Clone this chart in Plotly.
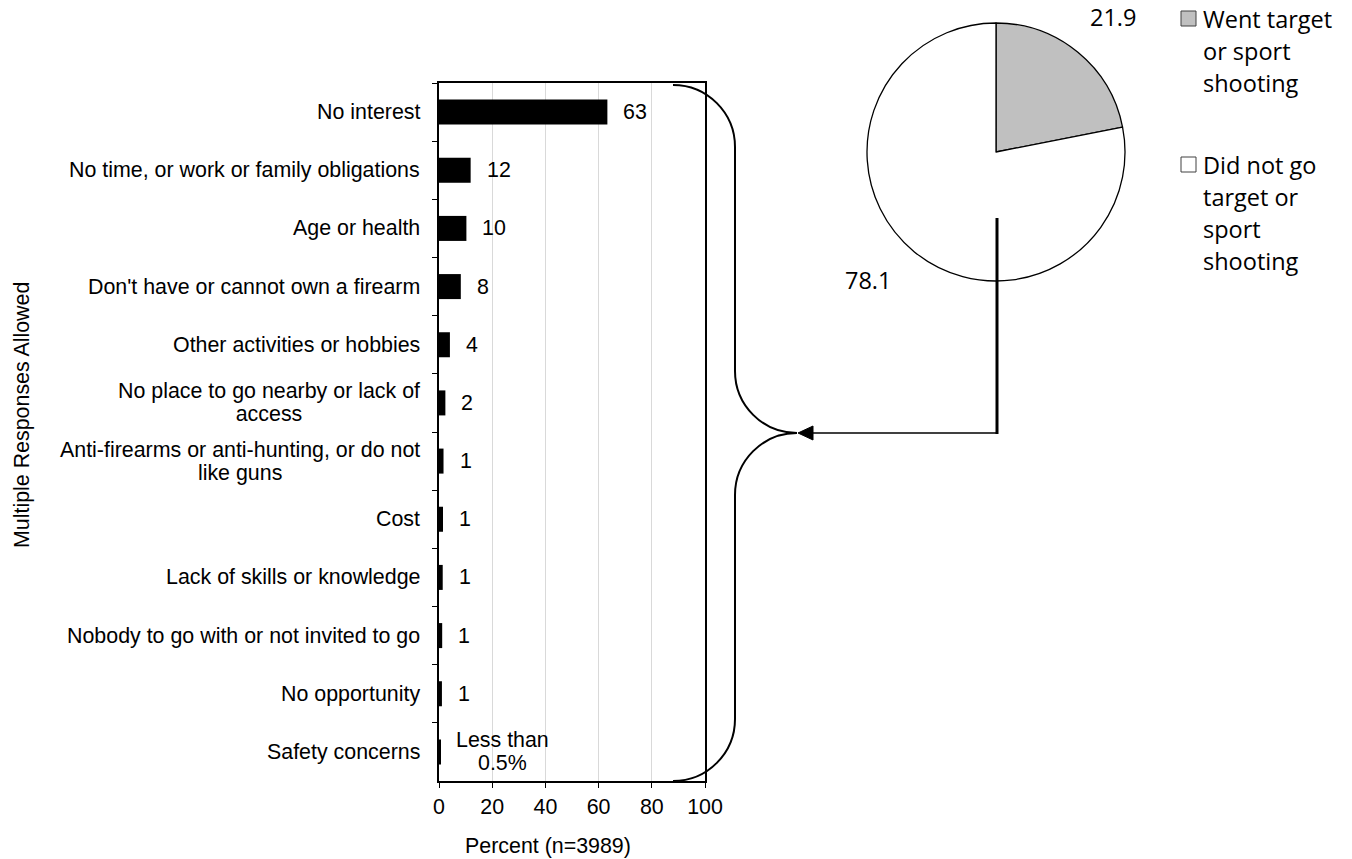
import plotly.graph_objects as go

# ---------------- data ----------------
categories = [
    "No interest",
    "No time, or work or family obligations",
    "Age or health",
    "Don't have or cannot own a firearm",
    "Other activities or hobbies",
    "No place to go nearby or lack of<br>access",
    "Anti-firearms or anti-hunting, or do not<br>like guns",
    "Cost",
    "Lack of skills or knowledge",
    "Nobody to go with or not invited to go",
    "No opportunity",
    "Safety concerns",
]
percents = [63.3, 11.9, 10.3, 8.2, 4.1, 2.4, 1.7, 1.5, 1.4, 1.2, 1.1, 0.4]
bar_labels = ["63", "12", "10", "8", "4", "2", "1", "1", "1", "1", "1", "Less than<br>0.5%"]
x_ticks = [0, 20, 40, 60, 80, 100]

pie_labels = ["Went target<br>or sport<br>shooting", "Did not go<br>target or<br>sport<br>shooting"]
pie_values = [21.9, 78.1]
pie_colors = ["#C0C0C0", "#FFFFFF"]

# ---------------- layout geometry ----------------
O = 0  # page body margin is removed by the post script
W, H = 1352 - 2 * O, 859 - 2 * O
ML, MR, MT, MB = 439 - O, 10, 2, 859 - 781 - O
PW = W - ML - MR
PH = H - MT - MB


def px(x):  # reference page pixel -> paper x
    return (x - O - ML) / PW


def py(y):  # reference page pixel -> paper y
    return (H - MB - (y - O)) / PH


ARIAL = "Liberation Sans, Arial, sans-serif"
CAL = "Open Sans, Calibri, sans-serif"
FS = 21.4
LS = 23  # line spacing of two-line labels (px)
CFS = 23.5


def multiline(text, size):
    """Lines rendered at `size`, spaced LS px apart."""
    return "<br>".join(f'<span style="font-size:{size}px">{ln}</span>' for ln in text.split("<br>"))


fig = go.Figure()

fig.add_trace(go.Bar(
    x=percents, y=categories, orientation="h",
    marker=dict(color="black", line=dict(width=0)),
    showlegend=False, hoverinfo="x+y",
))

pie_cx, pie_cy, pie_r = 996, 152, 129
fig.add_trace(go.Pie(
    labels=pie_labels, values=pie_values,
    marker=dict(colors=pie_colors, line=dict(color="black", width=1.3)),
    sort=False, direction="clockwise", rotation=0,
    textinfo="none", showlegend=False,
    domain=dict(x=[px(pie_cx - pie_r), px(pie_cx + pie_r)],
                y=[py(pie_cy + pie_r), py(pie_cy - pie_r)]),
))

annotations = []
# category labels
for c in categories:
    multi = "<br>" in c
    annotations.append(dict(
        x=0, xref="paper", y=c, yref="y",
        text=multiline(c, FS) if multi else c, showarrow=False,
        xanchor="right", yanchor="middle", align="center", xshift=-17,
        font=dict(family=ARIAL, size=LS / 1.3 if multi else FS, color="black"),
    ))
# bar value labels
for c, v, t in zip(categories, percents, bar_labels):
    multi = "<br>" in t
    annotations.append(dict(
        x=v, xref="x", y=c, yref="y",
        text=multiline(t, FS) if multi else t, showarrow=False,
        xanchor="left", yanchor="middle", align="center", xshift=14,
        font=dict(family=ARIAL, size=LS / 1.3 if multi else FS, color="black"),
    ))
# axis titles
annotations.append(dict(
    x=px(548), xref="paper", y=py(846), yref="paper", text="Percent (n=3989)",
    showarrow=False, xanchor="center", yanchor="middle",
    font=dict(family=ARIAL, size=FS, color="black"),
))
annotations.append(dict(
    x=px(22), xref="paper", y=py(415), yref="paper", text="Multiple Responses Allowed",
    showarrow=False, xanchor="center", yanchor="middle", textangle=-90,
    font=dict(family=ARIAL, size=FS, color="black"),
))
# pie value labels
for (lx, ly), v in zip([(1113, 17), (868, 280)], pie_values):
    annotations.append(dict(
        x=px(lx), xref="paper", y=py(ly), yref="paper", text=f"{v:.1f}",
        showarrow=False, xanchor="center", yanchor="middle",
        font=dict(family=CAL, size=CFS, color="black"),
    ))
# legend text
leg_rows = [[19, 51, 83], [165, 197, 229, 261]]
for lab, rows in zip(pie_labels, leg_rows):
    for line, yy in zip(lab.split("<br>"), rows):
        annotations.append(dict(
            x=px(1201), xref="paper", y=py(yy), yref="paper", text=line,
            showarrow=False, xanchor="left", yanchor="middle",
            font=dict(family=CAL, size=CFS, color="black"),
        ))

shapes = []
# legend squares
for col, (y0, y1) in zip(pie_colors, [(11, 26), (157, 172)]):
    shapes.append(dict(type="rect", xref="paper", yref="paper",
                       x0=px(1181), x1=px(1196), y0=py(y1), y1=py(y0),
                       fillcolor=col, line=dict(color="#404040", width=1)))

# curly brace
k = 0.5523
r = 62
xa, xb, xc = 673, 735, 797
yt, ym, yb = 85, 433, 781


def P(x, y):
    return f"{px(x):.6f},{py(y):.6f}"


path = (
    f"M{P(xa, yt)} C{P(xa + k*r, yt)} {P(xb, yt + r - k*r)} {P(xb, yt + r)} "
    f"L{P(xb, ym - r)} "
    f"C{P(xb, ym - r + k*r)} {P(xc - k*r, ym)} {P(xc, ym)} "
    f"C{P(xc - k*r, ym)} {P(xb, ym + r - k*r)} {P(xb, ym + r)} "
    f"L{P(xb, yb - r)} "
    f"C{P(xb, yb - r + k*r)} {P(xa + k*r, yb)} {P(xa, yb)}"
)
shapes.append(dict(type="path", xref="paper", yref="paper", path=path,
                   line=dict(color="black", width=2)))
# connector from pie
shapes.append(dict(type="line", xref="paper", yref="paper",
                   x0=px(997), x1=px(997), y0=py(218), y1=py(434),
                   line=dict(color="black", width=3)))
shapes.append(dict(type="line", xref="paper", yref="paper",
                   x0=px(997), x1=px(810), y0=py(433), y1=py(433),
                   line=dict(color="black", width=1.5)))
shapes.append(dict(type="path", xref="paper", yref="paper",
                   path=f"M{P(798, 433)} L{P(813, 426)} L{P(813, 440)} Z",
                   fillcolor="black", line=dict(color="black", width=1)))

fig.update_layout(
    width=W, height=H,
    margin=dict(l=ML, r=MR, t=MT, b=MB, autoexpand=False),
    paper_bgcolor="white", plot_bgcolor="white",
    bargap=0.57,
    xaxis=dict(domain=[0, px(705)], range=[0, 100], tickvals=x_ticks,
               showgrid=True, gridcolor="#D9D9D9", gridwidth=1,
               showline=True, linecolor="black", linewidth=2, mirror=True,
               ticks="outside", ticklen=5, tickcolor="black",
               zeroline=False, fixedrange=True,
               tickfont=dict(family=ARIAL, size=FS, color="black")),
    yaxis=dict(domain=[0, py(83)], range=[11.5, -0.5], type="category",
               showticklabels=False, tickson="boundaries",
               ticks="outside", ticklen=5, tickcolor="black",
               showline=True, linecolor="black", linewidth=2, mirror=True,
               showgrid=False, zeroline=False, fixedrange=True),
    annotations=annotations,
    shapes=shapes,
)

fig.write_html("out.html", config={"displayModeBar": False},
               post_script="document.body.style.margin='0px';")
